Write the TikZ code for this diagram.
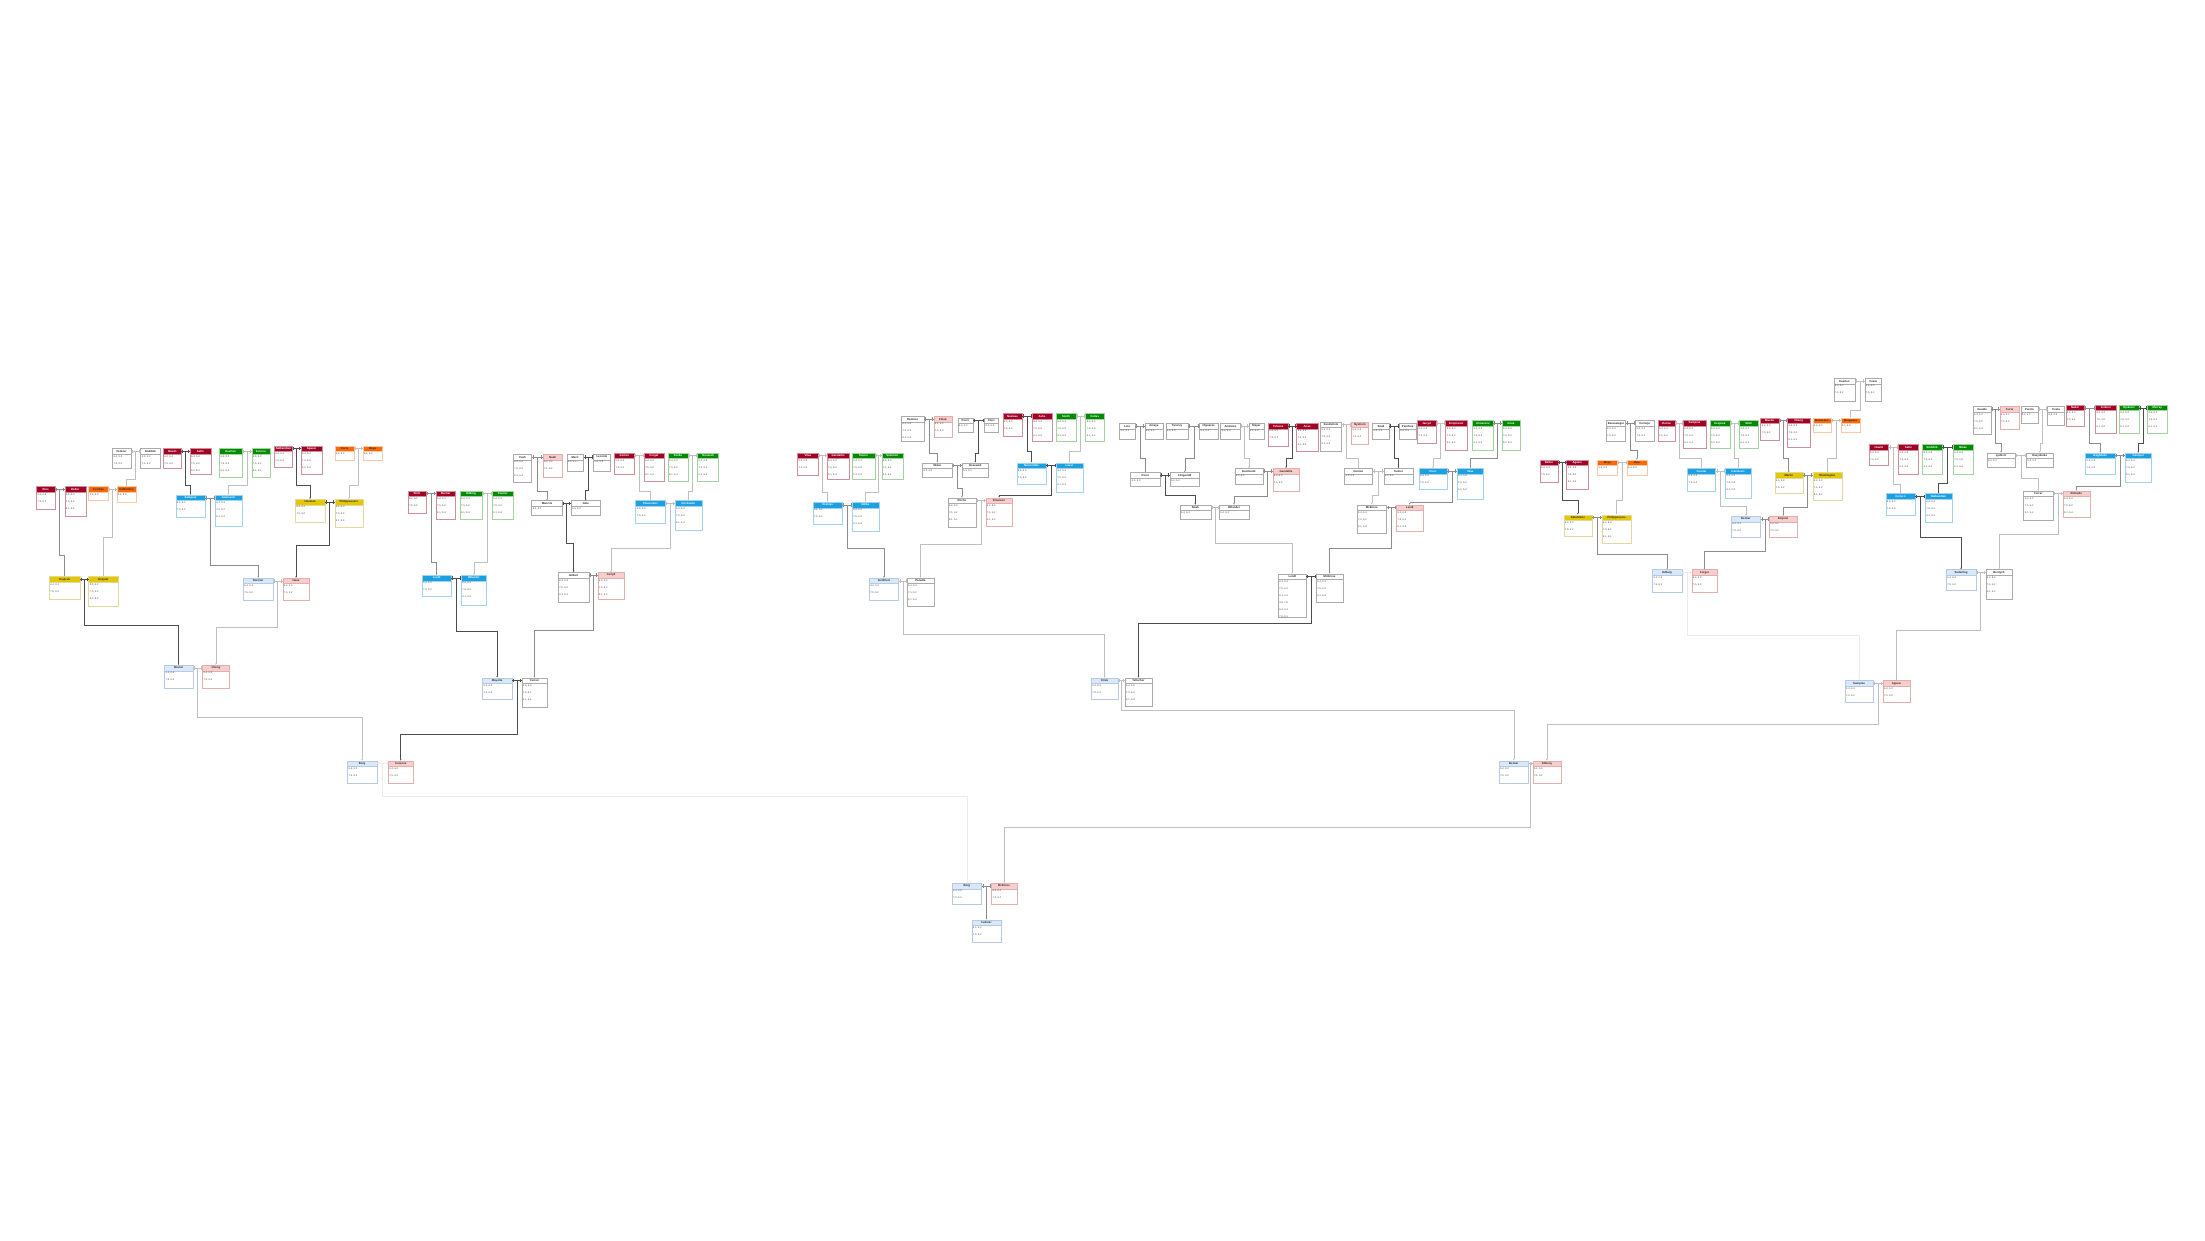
\documentclass[tikz,border=0pt]{standalone}
\usepackage{fontspec}
\setmainfont{Liberation Sans}
\usetikzlibrary{calc,arrows.meta}
\definecolor{rH}{HTML}{A20025}\definecolor{rB}{HTML}{CF8F9A}\colorlet{rT}{white}
\definecolor{gH}{HTML}{008A00}\definecolor{gB}{HTML}{A3D3A3}\colorlet{gT}{white}
\definecolor{oH}{HTML}{FA6800}\definecolor{oB}{HTML}{F7C8AA}\colorlet{oT}{black!85}
\definecolor{yH}{HTML}{E3C800}\definecolor{yB}{HTML}{E3D9A0}\colorlet{yT}{black!85}
\definecolor{bH}{HTML}{1BA1E2}\definecolor{bB}{HTML}{A3D2EC}\colorlet{bT}{white}
\definecolor{pH}{HTML}{F8CECC}\definecolor{pB}{HTML}{E2AEAE}\colorlet{pT}{black!85}
\definecolor{lH}{HTML}{DAE8FC}\definecolor{lB}{HTML}{B6CAE4}\colorlet{lT}{black!85}
\definecolor{wH}{HTML}{FFFFFF}\definecolor{wB}{HTML}{ABABAB}\colorlet{wT}{black!85}
\newcommand{\bodyof}[1]{\ifcase#1\or 6-4, 6-3\or 6-4, 6-3\\7-5, 6-2\or 6-4, 6-3\\7-5, 6-2\\6-1, 6-4\else 6-4, 6-3\\7-5, 6-2\\6-1, 6-4\\3-6, 7-6\\6-2, 6-4\\7-5, 6-1\fi}
\newcommand{\bx}[8]{%
 \node[box, minimum width={(#4-#2)*1.406pt}, minimum height={(#5-#3)*1.406pt}, anchor=north west] (#1) at (#2,#3) {};
 \fill[#6H] (#1.north west) rectangle ($(#1.north east)+(0,4)$);
 \draw[#6B, line width=0.3pt] (#1.north west) rectangle (#1.south east);
 \draw[#6B, line width=0.3pt] ($(#1.north west)+(0,4)$) -- ($(#1.north east)+(0,4)$);
 \node[hdr, text=#6T] at ($(#1.north)+(0,2)$) {#7};
 \node[bod, anchor=north west] at ($(#1.north west)+(0.7,4.8)$) {\bodyof{#8}};
}
\newcommand{\match}[5]{%
 \coordinate (ga) at ($(#1.north east)+(0,2)$);
 \coordinate (gb) at ($(#2.north west)+(0,2)$);
 \coordinate (gm) at ($(ga)!0.5!(gb)$);
 \coordinate (gy) at (0,#4);
 \draw[#5] (ga) -- (gb);
 \draw[#5] ($(ga)+(0.9,-1.3)$) -- ($(ga)+(0.9,1.3)$);
 \draw[#5] ($(gb)+(-0.9,-1.3)$) -- ($(gb)+(-0.9,1.3)$);
 \draw[#5,arr] (gm) -- (gm |- gy) -| (#3.north);
}
\begin{document}
\begin{tikzpicture}[x=1.406pt,y=-1.406pt,
 box/.style={inner sep=0pt, outer sep=0pt, fill=white},
 hdr/.style={font=\fontsize{2.8}{3}\selectfont\bfseries, inner sep=0pt},
 bod/.style={font=\fontsize{2.5}{7}\selectfont, inner sep=0pt, align=left, text=black!70},
 dk/.style={draw=black!70, line width=0.6pt},
 lt/.style={draw=black!25, line width=0.5pt},
 md/.style={draw=black!45, line width=0.55pt},
 vf/.style={draw=black!8, line width=0.5pt},
 arr/.style={-{Latex[length=1.6pt,width=1.4pt]}}]
\fill[white] (0,0) rectangle (1568,882);
\useasboundingbox (0,0) rectangle (1568,882);
% ---------- cluster A ----------
\bx{A1}{80}{319}{93}{333}{w}{Federer}{2}
\bx{A2}{100}{319}{114}{333}{w}{Roddick}{2}
\bx{A3}{116}{319}{129}{333}{r}{Hewitt}{2}
\bx{A4}{135}{319}{150}{337}{r}{Safin}{3}
\bx{A5}{156}{319}{172}{339}{g}{Kuerten}{3}
\bx{A6}{179}{319}{192}{339}{g}{Ferrero}{3}
\bx{A7}{195}{317}{208}{332}{r}{Nalbandian}{2}
\bx{A8}{214}{317}{229}{337}{r}{Agassi}{3}
\bx{A9}{238}{317}{252}{327}{o}{Coria}{1}
\bx{A10}{258}{317}{272}{327}{o}{Moya}{1}
\bx{A11}{26}{346}{39}{362}{r}{Rios}{2}
\bx{A12}{46}{346}{61}{367}{r}{Rafter}{3}
\bx{A13}{63}{346}{77}{356}{o}{Corretja}{1}
\bx{A14}{83}{346}{97}{357}{o}{Kafelnikov}{1}
\bx{A15}{125}{352}{146}{368}{b}{Sampras}{2}
\bx{A16}{153}{352}{172}{374}{b}{Ivanisevic}{3}
\bx{A17}{210}{355}{231}{371}{y}{Henman}{2}
\bx{A18}{238}{355}{258}{375}{y}{Philippoussis}{3}
\bx{A19}{35}{410}{57}{426}{y}{Krajicek}{2}
\bx{A20}{63}{410}{84}{431}{y}{Enqvist}{3}
\bx{A21}{173}{411}{194}{427}{l}{Norman}{2}
\bx{A22}{201}{411}{220}{427}{p}{Haas}{2}
\bx{A23}{117}{473}{137}{489}{l}{Muster}{2}
\bx{A24}{144}{473}{163}{489}{p}{Chang}{2}
% ---------- cluster B ----------
\bx{B1}{290}{349}{303}{365}{r}{Stich}{2}
\bx{B2}{310}{349}{324}{369}{r}{Becker}{3}
\bx{B3}{327}{349}{343}{369}{g}{Edberg}{3}
\bx{B4}{350}{349}{365}{369}{g}{Courier}{3}
\bx{B5}{300}{409}{321}{424}{b}{Lendl}{2}
\bx{B6}{328}{409}{346}{430}{b}{Wilander}{3}
\bx{B7}{365}{323}{378}{343}{w}{Cash}{3}
\bx{B8}{386}{323}{400}{339}{p}{Noah}{2}
\bx{B9}{403}{323}{415}{335}{w}{Mecir}{1}
\bx{B10}{422}{323}{434}{335}{w}{Leconte}{1}
\bx{B11}{437}{322}{451}{337}{r}{Gomez}{2}
\bx{B12}{458}{322}{472}{342}{r}{Forget}{3}
\bx{B13}{475}{322}{489}{342}{g}{Korda}{3}
\bx{B14}{496}{322}{511}{342}{g}{Novacek}{3}
\bx{B15}{378}{356}{400}{366}{w}{Mancini}{1}
\bx{B16}{406}{356}{427}{366}{w}{Jaite}{1}
\bx{B17}{452}{356}{473}{372}{b}{Chesnokov}{2}
\bx{B18}{480}{356}{499}{377}{b}{Krickstein}{3}
\bx{B19}{397}{407}{419}{428}{w}{Gilbert}{3}
\bx{B20}{425}{407}{444}{426}{p}{Jarryd}{3}
\bx{B21}{343}{482}{364}{497}{l}{Mayotte}{2}
\bx{B22}{371}{482}{389}{503}{w}{Curren}{3}
\bx{B23}{247}{541}{268}{557}{l}{Borg}{2}
\bx{B24}{276}{541}{294}{557}{p}{Connors}{2}
% ---------- cluster C ----------
\bx{C1}{567}{322}{582}{338}{r}{Vilas}{2}
\bx{C2}{588}{322}{604}{341}{r}{Gerulaitis}{3}
\bx{C3}{606}{322}{622}{341}{g}{Tanner}{3}
\bx{C4}{627}{322}{642}{341}{g}{Solomon}{3}
\bx{C5}{578}{357}{599}{373}{b}{Orantes}{2}
\bx{C6}{606}{357}{625}{378}{b}{Dibbs}{3}
\bx{C7}{641}{296}{657}{314}{w}{Ramirez}{3}
\bx{C8}{664}{296}{677}{311}{p}{Fibak}{2}
\bx{C9}{681}{297}{692}{307}{w}{Pecci}{1}
\bx{C10}{700}{297}{710}{307}{w}{Clerc}{1}
\bx{C11}{713}{294}{727}{310}{r}{Nastase}{2}
\bx{C12}{734}{294}{748}{314}{r}{Ashe}{3}
\bx{C13}{751}{294}{765}{314}{g}{Smith}{3}
\bx{C14}{772}{294}{785}{314}{g}{Kodes}{3}
\bx{C15}{656}{329}{677}{339}{w}{Okker}{1}
\bx{C16}{684}{329}{703}{339}{w}{Rosewall}{1}
\bx{C17}{723}{329}{744}{344}{b}{Newcombe}{2}
\bx{C18}{751}{329}{770}{350}{b}{Laver}{3}
\bx{C19}{674}{354}{694}{375}{w}{Roche}{3}
\bx{C20}{701}{354}{720}{374}{p}{Emerson}{3}
\bx{C21}{618}{411}{639}{427}{l}{Gottfried}{2}
\bx{C22}{645}{411}{664}{431}{w}{Panatta}{3}
\bx{C23}{776}{482}{795}{497}{l}{Kriek}{2}
\bx{C24}{800}{482}{819}{502}{w}{Teltscher}{3}
% ---------- cluster D ----------
\bx{D1}{796}{301}{807}{312}{w}{Lutz}{1}
\bx{D2}{814}{301}{827}{312}{w}{Amaya}{1}
\bx{D3}{829}{301}{845}{312}{w}{Taroczy}{1}
\bx{D4}{853}{301}{866}{312}{w}{Higueras}{1}
\bx{D5}{868}{301}{882}{312}{w}{Andrews}{1}
\bx{D6}{888}{301}{899}{312}{w}{Mayer}{1}
\bx{D7}{902}{301}{916}{317}{r}{Tulasne}{2}
\bx{D8}{922}{301}{937}{321}{r}{Arias}{3}
\bx{D9}{939}{300}{954}{321}{w}{Sundstrom}{3}
\bx{D10}{961}{300}{973}{316}{p}{Nystrom}{2}
\bx{D11}{976}{301}{988}{312}{w}{Smid}{1}
\bx{D12}{995}{301}{1007}{312}{w}{Pernfors}{1}
\bx{D13}{1008}{299}{1021}{315}{r}{Jarryd}{2}
\bx{D14}{1028}{299}{1043}{320}{r}{Zivojinovic}{3}
\bx{D15}{1047}{299}{1062}{320}{g}{Annacone}{3}
\bx{D16}{1068}{299}{1081}{320}{g}{Kriek}{3}
\bx{D17}{804}{336}{825}{346}{w}{Pecci}{1}
\bx{D18}{832}{336}{853}{346}{w}{Fitzgerald}{1}
\bx{D19}{878}{333}{898}{344}{w}{Gunthardt}{1}
\bx{D20}{905}{333}{924}{349}{p}{Gerulaitis}{2}
\bx{D21}{956}{333}{976}{344}{w}{Denton}{1}
\bx{D22}{984}{333}{1005}{344}{w}{Tanner}{1}
\bx{D23}{1009}{333}{1029}{348}{b}{Clerc}{2}
\bx{D24}{1036}{333}{1055}{355}{b}{Vilas}{3}
\bx{D25}{839}{359}{861}{369}{w}{Noah}{1}
\bx{D26}{867}{359}{888}{369}{w}{Wilander}{1}
\bx{D27}{965}{359}{986}{379}{w}{McEnroe}{3}
\bx{D28}{993}{359}{1012}{378}{p}{Lendl}{3}
\bx{D29}{909}{408}{929}{439}{w}{Lendl}{6}
\bx{D30}{936}{408}{955}{428}{w}{McEnroe}{3}
\bx{D31}{1066}{541}{1087}{557}{l}{Becker}{2}
\bx{D32}{1090}{541}{1110}{557}{p}{Edberg}{2}
% ---------- cluster E ----------
\bx{E1}{1304}{269}{1319}{285}{w}{Kuerten}{2}
\bx{E2}{1326}{269}{1338}{285}{w}{Costa}{2}
\bx{E3}{1095}{327}{1108}{343}{r}{Rafter}{2}
\bx{E4}{1114}{327}{1129}{348}{r}{Agassi}{3}
\bx{E5}{1136}{327}{1150}{338}{o}{Moya}{1}
\bx{E6}{1157}{327}{1171}{338}{o}{Rios}{1}
\bx{E7}{1142}{299}{1156}{314}{w}{Berasategui}{2}
\bx{E8}{1163}{299}{1176}{314}{w}{Corretja}{2}
\bx{E9}{1179}{299}{1191}{314}{r}{Pioline}{2}
\bx{E10}{1197}{299}{1213}{319}{r}{Sampras}{3}
\bx{E11}{1216}{299}{1230}{319}{g}{Krajicek}{3}
\bx{E12}{1237}{299}{1250}{319}{g}{Stich}{3}
\bx{E13}{1252}{297}{1265}{313}{r}{Muster}{2}
\bx{E14}{1271}{297}{1287}{318}{r}{Chang}{3}
\bx{E15}{1289}{297}{1302}{307}{o}{Medvedev}{1}
\bx{E16}{1309}{297}{1323}{307}{o}{Bruguera}{1}
\bx{E17}{1200}{333}{1220}{349}{b}{Courier}{2}
\bx{E18}{1227}{333}{1245}{354}{b}{Ivanisevic}{3}
\bx{E19}{1112}{366}{1132}{381}{y}{Kafelnikov}{2}
\bx{E20}{1139}{366}{1160}{386}{y}{Philippoussis}{3}
\bx{E21}{1262}{336}{1282}{351}{y}{Martin}{2}
\bx{E22}{1289}{336}{1310}{356}{y}{Washington}{3}
\bx{E23}{1231}{367}{1252}{382}{l}{Becker}{2}
\bx{E24}{1258}{367}{1278}{382}{p}{Enqvist}{2}
\bx{E25}{1175}{405}{1196}{421}{l}{Edberg}{2}
\bx{E26}{1203}{405}{1221}{421}{p}{Forget}{2}
\bx{E27}{1312}{484}{1332}{499}{l}{Sampras}{2}
\bx{E28}{1339}{484}{1358}{499}{p}{Agassi}{2}
% ---------- cluster F ----------
\bx{F1}{1403}{289}{1416}{309}{w}{Gaudio}{3}
\bx{F2}{1422}{289}{1436}{305}{p}{Coria}{2}
\bx{F3}{1437}{289}{1449}{301}{w}{Puerta}{1}
\bx{F4}{1456}{289}{1468}{302}{w}{Costa}{1}
\bx{F5}{1469}{288}{1482}{303}{r}{Nadal}{2}
\bx{F6}{1490}{288}{1505}{308}{r}{Federer}{3}
\bx{F7}{1507}{288}{1521}{308}{g}{Djokovic}{3}
\bx{F8}{1527}{288}{1541}{308}{g}{Murray}{3}
\bx{F9}{1329}{316}{1343}{331}{r}{Hewitt}{2}
\bx{F10}{1350}{316}{1364}{337}{r}{Safin}{3}
\bx{F11}{1367}{316}{1381}{337}{g}{Roddick}{3}
\bx{F12}{1389}{316}{1403}{337}{g}{Blake}{3}
\bx{F13}{1341}{351}{1362}{366}{b}{Ferrero}{2}
\bx{F14}{1369}{351}{1388}{371}{b}{Nalbandian}{3}
\bx{F15}{1413}{322}{1433}{332}{w}{Ljubicic}{1}
\bx{F16}{1441}{322}{1460}{332}{w}{Davydenko}{1}
\bx{F17}{1483}{322}{1504}{337}{b}{Baghdatis}{2}
\bx{F18}{1511}{322}{1530}{343}{b}{Gasquet}{3}
\bx{F19}{1439}{349}{1460}{370}{w}{Ferrer}{3}
\bx{F20}{1467}{349}{1486}{368}{p}{Robredo}{3}
\bx{F21}{1384}{405}{1405}{420}{l}{Soderling}{2}
\bx{F22}{1412}{405}{1431}{426}{w}{Berdych}{3}
% ---------- final ----------
\bx{Z1}{677}{628}{698}{643}{l}{Borg}{2}
\bx{Z2}{705}{628}{723}{643}{p}{McEnroe}{2}
\bx{Z3}{691}{654}{712}{670}{l}{Federer}{2}
% ---------- connectors A ----------
\match{A1}{A2}{A14}{341}{lt}
\match{A3}{A4}{A15}{345}{dk}
\match{A5}{A6}{A16}{345}{lt}
\match{A7}{A8}{A17}{345}{dk}
\match{A9}{A10}{A18}{345}{lt}
\match{A11}{A12}{A19}{395}{md}
\match{A13}{A14}{A20}{382}{lt}
\match{A15}{A16}{A21}{402}{md}
\match{A17}{A18}{A22}{388}{dk}
\match{A19}{A20}{A23}{445}{dk}
\match{A21}{A22}{A24}{446}{lt}
\match{A23}{A24}{B23}{510}{lt}
% ---------- connectors B ----------
\match{B1}{B2}{B5}{400}{md}
\match{B3}{B4}{B6}{400}{lt}
\match{B7}{B8}{B15}{349}{md}
\match{B9}{B10}{B16}{349}{dk}
\match{B11}{B12}{B17}{349}{lt}
\match{B13}{B14}{B18}{349}{lt}
\match{B15}{B16}{B19}{386}{dk}
\match{B17}{B18}{B20}{390}{lt}
\match{B5}{B6}{B21}{449}{dk}
\match{B19}{B20}{B22}{448}{md}
\match{B21}{B22}{B24}{522}{dk}
\match{B23}{B24}{Z1}{566}{vf}
% ---------- connectors C ----------
\match{C1}{C2}{C5}{350}{lt}
\match{C3}{C4}{C6}{350}{lt}
\match{C7}{C8}{C15}{322}{md}
\match{C9}{C10}{C16}{322}{dk}
\match{C11}{C12}{C17}{321}{dk}
\match{C13}{C14}{C18}{321}{lt}
\match{C15}{C16}{C19}{347}{md}
\match{C17}{C18}{C20}{352}{dk}
\match{C5}{C6}{C21}{390}{md}
\match{C19}{C20}{C22}{387}{lt}
\match{C21}{C22}{C23}{451}{lt}
\match{C23}{C24}{D31}{505}{lt}
% ---------- connectors D ----------
\match{D1}{D2}{D17}{326}{md}
\match{D3}{D4}{D18}{326}{md}
\match{D5}{D6}{D19}{326}{lt}
\match{D7}{D8}{D20}{326}{dk}
\match{D9}{D10}{D21}{326}{lt}
\match{D11}{D12}{D22}{326}{dk}
\match{D13}{D14}{D23}{326}{lt}
\match{D15}{D16}{D24}{326}{md}
\match{D17}{D18}{D25}{352}{dk}
\match{D19}{D20}{D26}{353}{md}
\match{D21}{D22}{D27}{352}{lt}
\match{D23}{D24}{D28}{357}{md}
\match{D25}{D26}{D29}{386}{lt}
\match{D27}{D28}{D30}{390}{md}
\match{D29}{D30}{C24}{443}{dk}
\match{D31}{D32}{Z2}{588}{lt}
% ---------- connectors E ----------
\match{E1}{E2}{E16}{292}{lt}
\match{E7}{E8}{E6}{320}{md}
\match{E9}{E10}{E17}{326}{lt}
\match{E11}{E12}{E18}{326}{lt}
\match{E13}{E14}{E21}{326}{md}
\match{E15}{E16}{E22}{326}{lt}
\match{E3}{E4}{E19}{356}{dk}
\match{E5}{E6}{E20}{356}{lt}
\match{E17}{E18}{E23}{360}{lt}
\match{E21}{E22}{E24}{361}{md}
\match{E19}{E20}{E25}{394}{md}
\match{E23}{E24}{E26}{392}{md}
\match{E25}{E26}{E27}{452}{vf}
\match{E27}{E28}{D32}{515}{lt}
% ---------- connectors F ----------
\match{F1}{F2}{F15}{315}{md}
\match{F3}{F4}{F16}{315}{lt}
\match{F5}{F6}{F17}{315}{md}
\match{F7}{F8}{F18}{315}{dk}
\match{F9}{F10}{F13}{344}{lt}
\match{F11}{F12}{F14}{344}{dk}
\match{F15}{F16}{F19}{340}{lt}
\match{F17}{F18}{F20}{346}{md}
\match{F13}{F14}{F21}{382}{dk}
\match{F19}{F20}{F22}{380}{lt}
\match{F21}{F22}{E28}{448}{lt}
% ---------- final ----------
\match{Z1}{Z2}{Z3}{648}{md}
\end{tikzpicture}
\end{document}
